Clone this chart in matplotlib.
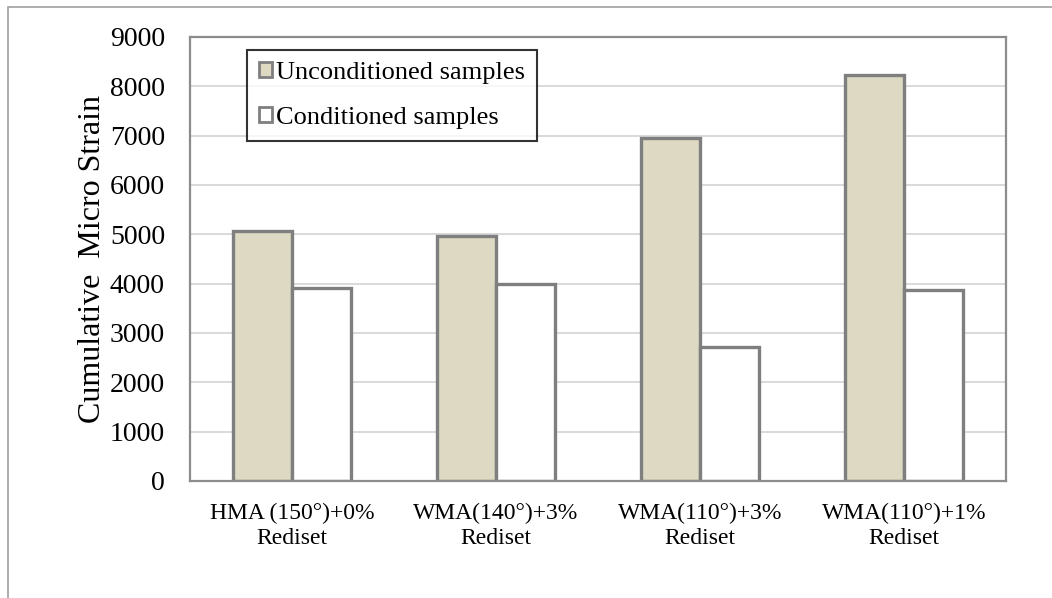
import numpy as np
import matplotlib
matplotlib.use('Agg')
import matplotlib.pyplot as plt
from matplotlib.patches import Rectangle

categories = ['HMA (150°)+0%\nRediset', 'WMA(140°)+3%\nRediset',
              'WMA(110°)+3%\nRediset', 'WMA(110°)+1%\nRediset']
unconditioned = [5070, 4960, 6950, 8230]
conditioned = [3910, 4000, 2720, 3880]
series_names = ['Unconditioned samples', 'Conditioned samples']
yticks = list(range(0, 9001, 1000))

plt.rcParams['font.family'] = ['Liberation Serif', 'DejaVu Serif']

fig = plt.figure(figsize=(10.52, 5.98), dpi=100)
ax = fig.add_axes([190 / 1052, 1 - 481 / 598, 816 / 1052, 444 / 598])

# outer frame around the whole chart
fig.patches.append(Rectangle((8 / 1052, -0.05), 1.1, 1 - 7 / 598 + 0.05,
                             transform=fig.transFigure, fill=False,
                             edgecolor='#a0a0a0', linewidth=1.2))

x = np.arange(len(categories))
w = 0.29
edge = '#7f7f7f'
ax.bar(x - w / 2, unconditioned, w, color='#ddd9c3', edgecolor=edge,
       linewidth=2.4, label=series_names[0], zorder=3)
ax.bar(x + w / 2, conditioned, w, color='white', edgecolor=edge,
       linewidth=2.4, label=series_names[1], zorder=3)

ax.set_xlim(-0.5, len(categories) - 0.5)
ax.set_ylim(0, 9000)
ax.set_yticks(yticks)
ax.set_xticks(x, categories)
ax.tick_params(axis='both', length=0)
ax.tick_params(axis='y', labelsize=20, pad=18)
ax.tick_params(axis='x', labelsize=17, pad=16)
for t in ax.get_xticklabels():
    t.set_linespacing(1.2)
ax.grid(True, axis='y', color='#d9d9d9', linewidth=1.4, zorder=0)
for s in ax.spines.values():
    s.set_color('#8c8c8c')
    s.set_linewidth(1.6)
ax.spines['bottom'].set_zorder(4)

ax.set_ylabel('Cumulative  Micro Strain', fontsize=23, labelpad=2)

leg = ax.legend(loc='upper left', bbox_to_anchor=(0.07, 0.97), fontsize=19,
                frameon=True, fancybox=False, handlelength=0.5, handleheight=0.5,
                handletextpad=0.15, borderpad=0.45, labelspacing=0.85,
                borderaxespad=0)
leg.get_frame().set_edgecolor('black')
leg.get_frame().set_linewidth(1.5)
for h in leg.legend_handles:
    h.set_linewidth(2.0)

fig.savefig('out.png', dpi=100)
